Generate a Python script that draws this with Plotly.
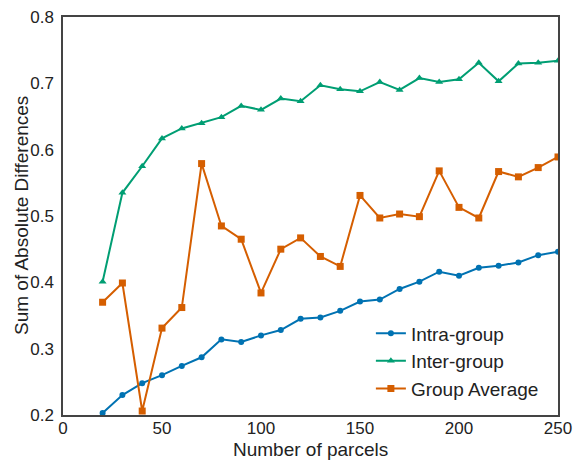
import plotly.graph_objects as go

parcels = [20, 30, 40, 50, 60, 70, 80, 90, 100, 110, 120, 130, 140, 150, 160, 170, 180, 190, 200, 210, 220, 230, 240, 250]
intra_group = [0.203, 0.230, 0.248, 0.260, 0.274, 0.287, 0.314, 0.310, 0.320, 0.328, 0.345, 0.347, 0.357, 0.371,
               0.374, 0.390, 0.401, 0.416, 0.410, 0.422, 0.425, 0.430, 0.441, 0.446]
inter_group = [0.401, 0.535, 0.575, 0.617, 0.632, 0.640, 0.649, 0.666, 0.660, 0.677, 0.673, 0.697, 0.691, 0.688,
               0.702, 0.690, 0.708, 0.702, 0.706, 0.731, 0.703, 0.730, 0.731, 0.734]
group_average = [0.370, 0.399, 0.206, 0.331, 0.362, 0.579, 0.485, 0.465, 0.384, 0.450, 0.467, 0.439, 0.424, 0.531,
                 0.497, 0.503, 0.499, 0.568, 0.513, 0.497, 0.567, 0.559, 0.573, 0.589]

x_ticks = [0, 50, 100, 150, 200, 250]
y_ticks = [0.2, 0.3, 0.4, 0.5, 0.6, 0.7, 0.8]
x_title = "Number of parcels"
y_title = "Sum of Absolute Differences"

FONT = "Arial, Liberation Sans, Helvetica, sans-serif"

fig = go.Figure()
fig.add_trace(go.Scatter(x=parcels, y=intra_group, name="Intra-group", mode="lines+markers",
                         line=dict(color="#0072B2", width=2),
                         marker=dict(symbol="circle", size=6, color="#0072B2")))
fig.add_trace(go.Scatter(x=parcels, y=inter_group, name="Inter-group", mode="lines+markers",
                         line=dict(color="#009E73", width=2),
                         marker=dict(symbol="triangle-up", size=7, color="#009E73")))
fig.add_trace(go.Scatter(x=parcels, y=group_average, name="Group Average", mode="lines+markers",
                         line=dict(color="#D55E00", width=2),
                         marker=dict(symbol="square", size=7, color="#D55E00")))

axis_common = dict(showgrid=False, zeroline=False, showline=True, mirror=True,
                   linecolor="#444", linewidth=1.5, ticks="", automargin=False,
                   tickfont=dict(family=FONT, size=17, color="#222"))

fig.update_layout(
    width=580, height=460,
    margin=dict(l=63, r=22, t=17, b=45),
    paper_bgcolor="white", plot_bgcolor="white",
    font=dict(family=FONT, color="#222"),
    xaxis=dict(range=[0, 250], tickvals=x_ticks, ticktext=[str(v) for v in x_ticks],
               ticklabelstandoff=-3, **axis_common),
    yaxis=dict(range=[0.2, 0.8], tickvals=y_ticks, ticktext=[f"{v:.1f}" for v in y_ticks],
               ticklabelstandoff=4, **axis_common),
    legend=dict(x=0.622, y=0.253, xanchor="left", yanchor="top", bgcolor="rgba(0,0,0,0)",
                font=dict(family=FONT, size=19, color="#222"), tracegroupgap=0),
    showlegend=True,
    annotations=[
        dict(text=x_title, xref="paper", yref="paper", x=0.5, y=-0.086,
             xanchor="center", yanchor="middle", showarrow=False,
             font=dict(family=FONT, size=19, color="#222")),
        dict(text=y_title, xref="paper", yref="paper", x=-0.0848, y=0.5,
             xanchor="center", yanchor="middle", showarrow=False, textangle=-90,
             font=dict(family=FONT, size=19, color="#222")),
    ],
)

fig.write_html("out.html")
